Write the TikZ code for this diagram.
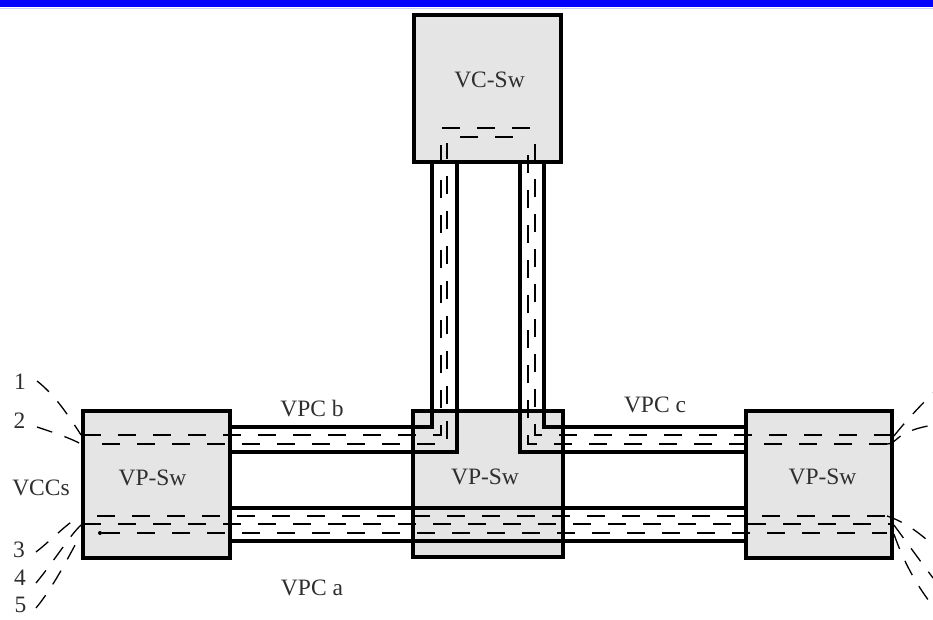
\documentclass[tikz,border=0pt]{standalone}
\usepackage{fontspec}
\setmainfont{Liberation Serif}
\definecolor{boxfill}{HTML}{E5E5E5}
\definecolor{txt}{HTML}{2E2E2E}
\definecolor{barblue}{RGB}{0,0,255}
\begin{document}
\begin{tikzpicture}[x=1pt,y=-1pt,
  box/.style={draw=black, line width=3.8pt, fill=boxfill, inner sep=0pt},
  lbl/.style={font=\fontsize{23.5}{24}\selectfont, text=txt, inner sep=0pt},
  wall/.style={line width=3.8pt, line cap=butt, line join=miter},
  chan/.style={line width=1.6pt, dash pattern=on 18pt off 17pt},
  vcc/.style={line width=1.3pt, dash pattern=on 16pt off 13pt},
]
\useasboundingbox (0,0) rectangle (933,619);
\fill[barblue] (0,0) rectangle (933,7);
\draw[blue!20, line width=1pt] (0,8.5) -- (933,8.5);

% switches
\node[box, minimum width=147pt, minimum height=147pt] (vc) at (487.5,88.5) {};
\node[box, minimum width=147pt, minimum height=147pt] (lb) at (156.5,484.5) {};
\node[box, minimum width=150pt, minimum height=146pt] (mb) at (488,484) {};
\node[box, minimum width=146pt, minimum height=147pt] (rb) at (819,484.5) {};

\node[lbl] (tvc) at (489.5,80) {VC-Sw};
\node[lbl] (tlb) at (152.5,478) {VP-Sw};
\node[lbl] (tmb) at (485,477) {VP-Sw};
\node[lbl] (trb) at (822.5,477) {VP-Sw};

% pipe walls
\draw[wall] (432,0 |- vc.south) -- (432,427) -- (lb.east |- 0,427);
\draw[wall] (457,0 |- vc.south) -- (457,452) -- (lb.east |- 0,452);
\draw[wall] (544,0 |- vc.south) -- (544,427) -- (rb.west |- 0,427);
\draw[wall] (520,0 |- vc.south) -- (520,452) -- (rb.west |- 0,452);
\draw[wall] (lb.east |- 0,508) -- (rb.west |- 0,508);
\draw[wall] (lb.east |- 0,541) -- (rb.west |- 0,541);

% virtual channels
\draw[chan] (442,128) -- (534,128);
\draw[chan] (460,137) -- (515,137);
\draw[chan] (83,435) -- (441,435) -- (441,143);
\draw[chan] (102,444) -- (447,444) -- (447,143);
\draw[chan] (892,435) -- (535,435) -- (535,140);
\draw[chan] (887,444) -- (528,444) -- (528,140);
\draw[chan] (97,516) -- (887,516);
\draw[chan] (83,524) -- (892,524);
\draw[chan] (102,533) -- (887,533);
\fill (100,533) circle (2pt);

% VCC labels
\node[lbl] (n1) at (20,382) {1};
\node[lbl] (n2) at (19.5,421) {2};
\node[lbl] (vccs) at (41,488) {VCCs};
\node[lbl] (n3) at (19,550) {3};
\node[lbl] (n4) at (20,578) {4};
\node[lbl] (n5) at (20.5,605) {5};

% VCC dashed leads (left)
\draw[vcc] (37,381) .. controls (55,395) and (68,415) .. (lb.west |- 0,435);
\draw[vcc] (37,427) .. controls (55,433) and (70,438) .. (lb.west |- 0,444);
\draw[vcc] (36,552) .. controls (55,537) and (68,522) .. (lb.west |- 0,516);
\draw[vcc] (36,583) .. controls (55,560) and (70,535) .. (lb.west |- 0,525);
\draw[vcc] (36,608) .. controls (55,585) and (72,550) .. (lb.west |- 0,534);

% VCC dashed leads (right)
\draw[vcc] (rb.east |- 0,436) .. controls (905,422) and (918,408) .. (933,393);
\draw[vcc] (887,444) .. controls (898,444) and (893,432) .. (933,425);
\draw[vcc] (887,516) .. controls (905,522) and (918,532) .. (933,545);
\draw[vcc] (rb.east |- 0,525) .. controls (905,540) and (918,558) .. (933,578);
\draw[vcc] (rb.east |- 0,534) .. controls (903,560) and (916,585) .. (933,606);

% pipe labels
\node[lbl] (vpcb) at (312,409) {VPC b};
\node[lbl] (vpcc) at (655,405) {VPC c};
\node[lbl] (vpca) at (312,588) {VPC a};
\end{tikzpicture}
\end{document}
